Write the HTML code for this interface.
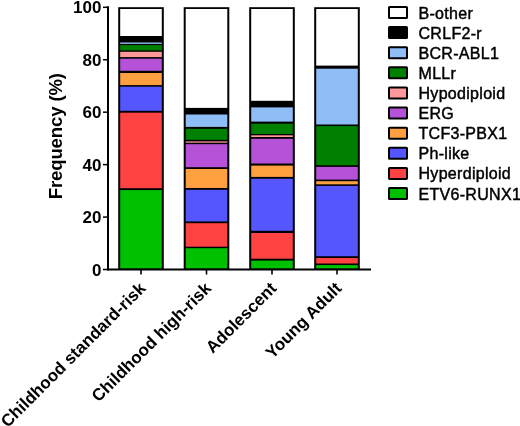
<!DOCTYPE html><html><head><meta charset="utf-8"><style>html,body{margin:0;padding:0;background:#fff;}svg{display:block;will-change:transform;}text{font-family:"Liberation Sans",sans-serif;}</style></head><body>
<svg width="520" height="426" viewBox="0 0 520 426">
<rect x="0" y="0" width="520" height="426" fill="#fff"/>
<rect x="118.20" y="7.2" width="45.60" height="262.30" fill="#000"/>
<rect x="120.20" y="9.0" width="41.60" height="27.00" fill="#FFFFFF"/>
<rect x="120.20" y="42.5" width="41.60" height="1.40" fill="#8FBDF5"/>
<rect x="120.20" y="45.1" width="41.60" height="5.30" fill="#008000"/>
<rect x="120.20" y="51.8" width="41.60" height="5.30" fill="#FF9999"/>
<rect x="120.20" y="58.7" width="41.60" height="12.10" fill="#B652D8"/>
<rect x="120.20" y="73.0" width="41.60" height="12.10" fill="#FFA040"/>
<rect x="120.20" y="86.7" width="41.60" height="24.10" fill="#5656FF"/>
<rect x="120.20" y="112.7" width="41.60" height="75.50" fill="#FF4242"/>
<rect x="120.20" y="190.1" width="41.60" height="78.50" fill="#00C000"/>
<rect x="183.70" y="7.2" width="45.60" height="262.30" fill="#000"/>
<rect x="185.70" y="9.0" width="41.60" height="98.90" fill="#FFFFFF"/>
<rect x="185.70" y="114.5" width="41.60" height="12.40" fill="#8FBDF5"/>
<rect x="185.70" y="128.8" width="41.60" height="11.00" fill="#008000"/>
<rect x="185.70" y="141.4" width="41.60" height="1.30" fill="#FF9999"/>
<rect x="185.70" y="144.2" width="41.60" height="23.00" fill="#B652D8"/>
<rect x="185.70" y="169.0" width="41.60" height="19.00" fill="#FFA040"/>
<rect x="185.70" y="189.8" width="41.60" height="31.60" fill="#5656FF"/>
<rect x="185.70" y="223.2" width="41.60" height="23.50" fill="#FF4242"/>
<rect x="185.70" y="248.2" width="41.60" height="20.40" fill="#00C000"/>
<rect x="249.20" y="7.2" width="45.60" height="262.30" fill="#000"/>
<rect x="251.20" y="9.0" width="41.60" height="91.80" fill="#FFFFFF"/>
<rect x="251.20" y="107.4" width="41.60" height="14.20" fill="#8FBDF5"/>
<rect x="251.20" y="123.7" width="41.60" height="10.30" fill="#008000"/>
<rect x="251.20" y="135.3" width="41.60" height="1.70" fill="#FF9999"/>
<rect x="251.20" y="138.8" width="41.60" height="24.70" fill="#B652D8"/>
<rect x="251.20" y="165.6" width="41.60" height="11.30" fill="#FFA040"/>
<rect x="251.20" y="178.7" width="41.60" height="52.10" fill="#5656FF"/>
<rect x="251.20" y="233.0" width="41.60" height="25.70" fill="#FF4242"/>
<rect x="251.20" y="260.6" width="41.60" height="8.00" fill="#00C000"/>
<rect x="314.20" y="7.2" width="45.60" height="262.30" fill="#000"/>
<rect x="316.20" y="9.0" width="41.60" height="56.60" fill="#FFFFFF"/>
<rect x="316.20" y="68.7" width="41.60" height="55.80" fill="#8FBDF5"/>
<rect x="316.20" y="126.1" width="41.60" height="39.10" fill="#008000"/>
<rect x="316.20" y="166.9" width="41.60" height="12.70" fill="#B652D8"/>
<rect x="316.20" y="181.2" width="41.60" height="3.10" fill="#FFA040"/>
<rect x="316.20" y="185.9" width="41.60" height="70.30" fill="#5656FF"/>
<rect x="316.20" y="258.0" width="41.60" height="5.50" fill="#FF4242"/>
<rect x="316.20" y="265.1" width="41.60" height="3.50" fill="#00C000"/>
<line x1="108" y1="6.3" x2="108" y2="270.2" stroke="#000" stroke-width="2"/>
<line x1="107" y1="269.5" x2="371" y2="269.5" stroke="#000" stroke-width="2"/>
<line x1="103" y1="269.50" x2="108" y2="269.50" stroke="#000" stroke-width="1.5"/>
<text x="101.4" y="275.60" font-size="17" font-weight="bold" text-anchor="end">0</text>
<line x1="103" y1="217.06" x2="108" y2="217.06" stroke="#000" stroke-width="1.5"/>
<text x="101.4" y="223.16" font-size="17" font-weight="bold" text-anchor="end">20</text>
<line x1="103" y1="164.62" x2="108" y2="164.62" stroke="#000" stroke-width="1.5"/>
<text x="101.4" y="170.72" font-size="17" font-weight="bold" text-anchor="end">40</text>
<line x1="103" y1="112.18" x2="108" y2="112.18" stroke="#000" stroke-width="1.5"/>
<text x="101.4" y="118.28" font-size="17" font-weight="bold" text-anchor="end">60</text>
<line x1="103" y1="59.74" x2="108" y2="59.74" stroke="#000" stroke-width="1.5"/>
<text x="101.4" y="65.84" font-size="17" font-weight="bold" text-anchor="end">80</text>
<line x1="103" y1="7.30" x2="108" y2="7.30" stroke="#000" stroke-width="1.5"/>
<text x="101.4" y="13.40" font-size="17" font-weight="bold" text-anchor="end">100</text>
<line x1="141.00" y1="269.5" x2="141.00" y2="274.5" stroke="#000" stroke-width="1.6"/>
<line x1="206.50" y1="269.5" x2="206.50" y2="274.5" stroke="#000" stroke-width="1.6"/>
<line x1="272.00" y1="269.5" x2="272.00" y2="274.5" stroke="#000" stroke-width="1.6"/>
<line x1="337.00" y1="269.5" x2="337.00" y2="274.5" stroke="#000" stroke-width="1.6"/>
<text transform="translate(146.60,289.3) rotate(-45)" font-size="17" font-weight="bold" text-anchor="end">Childhood standard-risk</text>
<text transform="translate(212.10,289.3) rotate(-45)" font-size="17" font-weight="bold" text-anchor="end">Childhood high-risk</text>
<text transform="translate(277.60,289.3) rotate(-45)" font-size="17" font-weight="bold" text-anchor="end">Adolescent</text>
<text transform="translate(342.60,289.3) rotate(-45)" font-size="17" font-weight="bold" text-anchor="end">Young Adult</text>
<text transform="translate(61.9,199.3) rotate(-90)" font-size="18.6" letter-spacing="-0.15" font-weight="bold">Frequency (%)</text>
<rect x="389" y="7.00" width="18" height="11" rx="0.6" fill="#FFFFFF" stroke="#000" stroke-width="2"/>
<text x="418.5" y="18.50" font-size="16" letter-spacing="0.3" stroke="#000" stroke-width="0.45">B-other</text>
<rect x="389" y="27.12" width="18" height="11" rx="0.6" fill="#000000" stroke="#000" stroke-width="2"/>
<text x="418.5" y="38.62" font-size="16" letter-spacing="0.3" stroke="#000" stroke-width="0.45">CRLF2-r</text>
<rect x="389" y="47.24" width="18" height="11" rx="0.6" fill="#8FBDF5" stroke="#000" stroke-width="2"/>
<text x="418.5" y="58.74" font-size="16" letter-spacing="0.3" stroke="#000" stroke-width="0.45">BCR-ABL1</text>
<rect x="389" y="67.36" width="18" height="11" rx="0.6" fill="#008000" stroke="#000" stroke-width="2"/>
<text x="418.5" y="78.86" font-size="16" letter-spacing="0.3" stroke="#000" stroke-width="0.45">MLLr</text>
<rect x="389" y="87.48" width="18" height="11" rx="0.6" fill="#FF9999" stroke="#000" stroke-width="2"/>
<text x="418.5" y="98.98" font-size="16" letter-spacing="0.3" stroke="#000" stroke-width="0.45">Hypodiploid</text>
<rect x="389" y="107.60" width="18" height="11" rx="0.6" fill="#B652D8" stroke="#000" stroke-width="2"/>
<text x="418.5" y="119.10" font-size="16" letter-spacing="0.3" stroke="#000" stroke-width="0.45">ERG</text>
<rect x="389" y="127.72" width="18" height="11" rx="0.6" fill="#FFA040" stroke="#000" stroke-width="2"/>
<text x="418.5" y="139.22" font-size="16" letter-spacing="0.3" stroke="#000" stroke-width="0.45">TCF3-PBX1</text>
<rect x="389" y="147.84" width="18" height="11" rx="0.6" fill="#5656FF" stroke="#000" stroke-width="2"/>
<text x="418.5" y="159.34" font-size="16" letter-spacing="0.3" stroke="#000" stroke-width="0.45">Ph-like</text>
<rect x="389" y="167.96" width="18" height="11" rx="0.6" fill="#FF4242" stroke="#000" stroke-width="2"/>
<text x="418.5" y="179.46" font-size="16" letter-spacing="0.3" stroke="#000" stroke-width="0.45">Hyperdiploid</text>
<rect x="389" y="188.08" width="18" height="11" rx="0.6" fill="#00C000" stroke="#000" stroke-width="2"/>
<text x="418.5" y="199.58" font-size="16" letter-spacing="0.3" stroke="#000" stroke-width="0.45">ETV6-RUNX1</text>
</svg></body></html>
